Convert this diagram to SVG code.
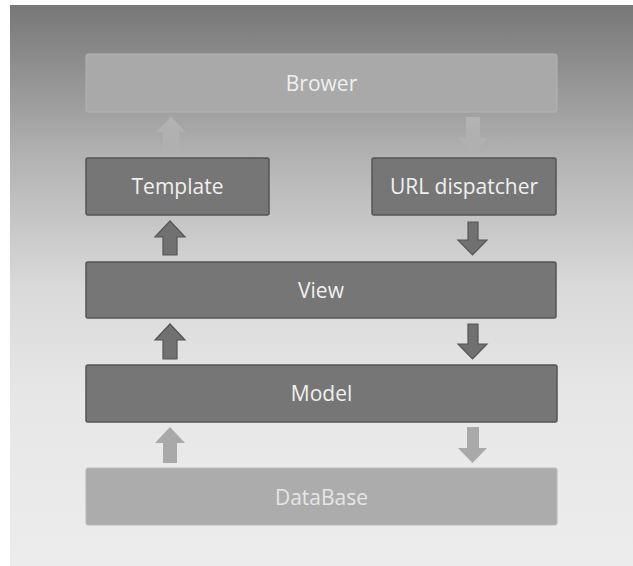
<svg xmlns="http://www.w3.org/2000/svg" width="633" height="566" viewBox="0 0 633 566">
<defs>
<linearGradient id="bg" x1="0" y1="0" x2="0" y2="1">
<stop offset="0" stop-color="#777777"/>
<stop offset="0.28" stop-color="#b4b4b4"/>
<stop offset="0.5" stop-color="#d9d9d9"/>
<stop offset="0.7" stop-color="#e7e7e7"/>
<stop offset="1" stop-color="#ececec"/>
</linearGradient>
<linearGradient id="fadeUp" x1="0" y1="0" x2="0" y2="1">
<stop offset="0" stop-color="#bcbcbc" stop-opacity="0.7"/>
<stop offset="1" stop-color="#bcbcbc" stop-opacity="0"/>
</linearGradient>
<style>
.dark{fill:#767676;stroke:#545454;stroke-width:1.5}
.light{fill:#acacac;stroke:#b8b8b8;stroke-width:1}
.lbl{font-family:"Open Sans","Noto Sans",sans-serif;font-size:21px;fill:#f0f0f0;text-anchor:middle}
.darr{fill:#717171;stroke:#555555;stroke-width:1.2}
.larr{fill:#a9a9a9}
</style>
</defs>
<rect x="0" y="0" width="633" height="566" fill="#ffffff"/>
<rect x="10" y="5" width="623" height="561" fill="url(#bg)"/>

<g id="connectors">
<path d="M163,155 L163,132 L156,132 L171,117 L186,132 L179,132 L179,155 Z" fill="url(#fadeUp)"/>
<path d="M466,117 L480,117 L480,138 L488,138 L473,155 L458,138 L466,138 Z" fill="url(#fadeUp)"/>
<path class="darr" d="M163,255 L163,237 L155,237 L170,221 L185,237 L177,237 L177,255 Z"/>
<path class="darr" d="M468,222 L478,222 L478,240 L487,240 L472.5,255 L458,240 L468,240 Z"/>
<path class="darr" d="M163,359 L163,340 L155,340 L170,324 L185,340 L177,340 L177,359 Z"/>
<path class="darr" d="M468,324 L478,324 L478,344 L487,344 L472.5,359 L458,344 L468,344 Z"/>
<path class="larr" d="M163,463 L163,443 L155,443 L170,427 L185,443 L177,443 L177,463 Z"/>
<path class="larr" d="M467,427 L479,427 L479,448 L487,448 L472.5,463 L458,448 L467,448 Z"/>
</g>

<g id="browser">
<rect class="light" x="86" y="54" width="471" height="58" rx="2" style="fill:#a9a9a9;stroke:#b3b3b3"/>
<text class="lbl" x="321.5" y="90.5">Brower</text>
</g>
<g id="template">
<rect class="dark" x="86" y="158" width="183" height="57" rx="2"/>
<text class="lbl" x="177.5" y="194">Template</text>
</g>
<g id="url-dispatcher">
<rect class="dark" x="372" y="158" width="184" height="57" rx="2"/>
<text class="lbl" x="464" y="194">URL dispatcher</text>
</g>
<g id="view">
<rect class="dark" x="86" y="262" width="470" height="56" rx="2"/>
<text class="lbl" x="321" y="297.5">View</text>
</g>
<g id="model">
<rect class="dark" x="86" y="365" width="471" height="57" rx="2"/>
<text class="lbl" x="321.5" y="401">Model</text>
</g>
<g id="database">
<rect class="light" x="86" y="468" width="471" height="57" rx="2"/>
<text class="lbl" x="321.5" y="504.5" style="fill:#e6e6e6">DataBase</text>
</g>
</svg>
